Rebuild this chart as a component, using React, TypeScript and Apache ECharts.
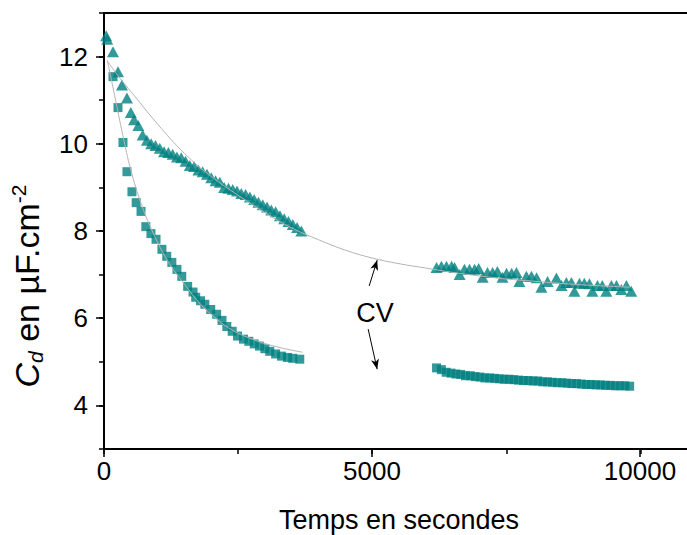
import React, { useEffect, useRef } from "react";
import * as echarts from "echarts";

const FONT = 'Arial, "Liberation Sans", sans-serif';
const TEAL = "#008080";
const FIT = "#b4b4b4";

// Triangles (upper series), segment 1 and 2: [time s, Cd µF/cm²]
const trianglesA: number[][] = [
  [40, 12.48], [60, 12.4], [168, 12.11], [261, 11.65], [335, 11.35], [428, 11.05], [500, 10.72],
  [560, 10.55], [640, 10.42], [720, 10.2], [800, 10.08], [880, 10.0], [960, 9.96], [1040, 9.9],
  [1120, 9.82], [1200, 9.8], [1280, 9.76], [1360, 9.7], [1440, 9.68], [1520, 9.6], [1600, 9.5],
  [1680, 9.48], [1760, 9.4], [1840, 9.36], [1920, 9.3], [2000, 9.22], [2080, 9.15], [2160, 9.12],
  [2240, 9.0], [2320, 8.98], [2400, 8.95], [2480, 8.92], [2560, 8.86], [2640, 8.84], [2720, 8.78],
  [2800, 8.72], [2880, 8.66], [2960, 8.6], [3040, 8.55], [3120, 8.48], [3200, 8.44], [3280, 8.35],
  [3360, 8.28], [3440, 8.22], [3520, 8.15], [3600, 8.08], [3680, 8.0],
];
const trianglesB: number[][] = [
  [6200, 7.16], [6290, 7.19], [6385, 7.19], [6480, 7.19], [6535, 7.16], [6630, 7.0], [6720, 7.12],
  [6815, 7.12], [6910, 7.12], [6985, 7.14], [7060, 6.94], [7150, 7.05], [7245, 7.05], [7335, 7.07],
  [7430, 6.94], [7505, 7.03], [7600, 7.03], [7690, 7.05], [7745, 6.84], [7875, 6.96], [7970, 6.96],
  [8065, 6.93], [8155, 6.71], [8270, 6.84], [8435, 6.92], [8530, 6.75], [8620, 6.82], [8715, 6.82],
  [8770, 6.62], [8865, 6.8], [8955, 6.8], [9050, 6.79], [9105, 6.62], [9200, 6.75], [9290, 6.75],
  [9365, 6.62], [9460, 6.75], [9555, 6.75], [9645, 6.66], [9740, 6.75], [9830, 6.62],
];

// Squares (lower series), segment 1 and 2
const squaresA: number[][] = [
  [168, 11.54], [261, 10.83], [354, 10.03], [428, 9.36], [521, 8.9], [600, 8.65], [690, 8.45],
  [780, 8.1], [875, 7.94], [970, 7.81], [1080, 7.58], [1170, 7.42], [1265, 7.28], [1360, 7.12],
  [1450, 6.96], [1560, 6.73], [1660, 6.6], [1710, 6.48], [1800, 6.4], [1880, 6.32], [1990, 6.2],
  [2100, 6.09], [2200, 5.95], [2290, 5.81], [2390, 5.7], [2490, 5.59], [2600, 5.52], [2700, 5.47],
  [2800, 5.41], [2900, 5.36], [3000, 5.3], [3090, 5.24], [3200, 5.18], [3310, 5.13], [3420, 5.1],
  [3520, 5.08], [3650, 5.06],
];
const squaresB: number[][] = [
  [6200, 4.86], [6290, 4.82], [6380, 4.76], [6470, 4.74], [6560, 4.72], [6650, 4.71], [6740, 4.68],
  [6830, 4.68], [6920, 4.66], [7010, 4.65], [7100, 4.63], [7190, 4.63], [7280, 4.62], [7370, 4.61],
  [7460, 4.6], [7550, 4.6], [7640, 4.59], [7730, 4.58], [7820, 4.57], [7910, 4.57], [8000, 4.56],
  [8090, 4.56], [8180, 4.54], [8270, 4.54], [8360, 4.53], [8450, 4.52], [8540, 4.52], [8630, 4.51],
  [8720, 4.5], [8810, 4.5], [8900, 4.49], [8990, 4.48], [9080, 4.48], [9170, 4.47], [9260, 4.47],
  [9350, 4.46], [9440, 4.46], [9530, 4.45], [9620, 4.45], [9710, 4.45], [9800, 4.44],
];

// Fitted curves (grey)
const fitTriangles: number[][] = [
  [60, 11.9], [300, 11.5], [600, 11.05], [1000, 10.45], [1500, 9.78], [2000, 9.25], [2500, 8.82],
  [3000, 8.42], [3500, 8.07], [4000, 7.8], [4500, 7.56], [5000, 7.38], [5500, 7.25], [6000, 7.15],
  [6500, 7.05], [7000, 6.97], [7500, 6.9], [8000, 6.85], [8500, 6.8], [9000, 6.76], [9500, 6.73],
  [9800, 6.71],
];
const fitSquares: number[][] = [
  [60, 11.92], [200, 11.1], [350, 10.2], [500, 9.4], [700, 8.6], [900, 8.0], [1100, 7.5],
  [1300, 7.1], [1500, 6.78], [1800, 6.32], [2100, 5.98], [2400, 5.72], [2700, 5.55], [3000, 5.42],
  [3300, 5.32], [3700, 5.22],
];

// Annotation arrows (start -> tip), in data units
const arrowUp: number[][] = [[4944, 6.74], [5093, 7.33]];
const arrowDown: number[][] = [[4925, 5.75], [5093, 4.83]];

const xMajorTicks = { min: 0, max: 10000, interval: 5000 };
const yMajorTicks = { min: 4, max: 12, interval: 2 };

export default function App() {
  const ref = useRef<HTMLDivElement>(null);
  useEffect(() => {
    if (!ref.current) return;
    const chart = echarts.init(ref.current, undefined, { renderer: "svg" });
    const black = "#000";
    const option: any = {
      animation: false,
      backgroundColor: "#fff",
      grid: [
        { left: 104, top: 13, width: 590, height: 436, show: true, borderColor: black, borderWidth: 2, backgroundColor: "transparent", outerBoundsMode: "none", containLabel: false },
        { left: 104, top: 56.6, width: 590, height: 348.8, show: false, outerBoundsMode: "none", containLabel: false },
        { left: 104, top: 13, width: 536, height: 436, show: false, outerBoundsMode: "none", containLabel: false },
      ],
      xAxis: [
        {
          gridIndex: 0, type: "value", min: 0, max: 11000, interval: 2500,
          axisLine: { show: true, onZero: false, lineStyle: { color: black, width: 2 } },
          axisTick: { show: true, inside: false, length: 5, lineStyle: { color: black, width: 1.5 } },
          axisLabel: { show: false }, splitLine: { show: false },
          name: "Temps en secondes", nameLocation: "middle", nameGap: 57,
          nameTextStyle: { color: black, fontSize: 27, fontFamily: FONT },
        },
        { gridIndex: 1, type: "value", min: 0, max: 1, show: false },
        {
          gridIndex: 2, type: "value", ...xMajorTicks,
          axisLine: { show: false, onZero: false },
          axisTick: { show: true, inside: false, length: 8, lineStyle: { color: black, width: 1.5 } },
          axisLabel: { color: black, fontSize: 26, fontFamily: FONT, margin: 9, formatter: (v: number) => String(v) },
          splitLine: { show: false },
        },
      ],
      yAxis: [
        {
          gridIndex: 0, type: "value", min: 3, max: 13, interval: 1,
          axisLine: { show: true, onZero: false, lineStyle: { color: black, width: 2 } },
          axisTick: { show: true, inside: false, length: 5, lineStyle: { color: black, width: 1.5 } },
          axisLabel: { show: false }, splitLine: { show: false },
        },
        {
          gridIndex: 1, type: "value", ...yMajorTicks,
          axisLine: { show: false, onZero: false },
          axisTick: { show: true, inside: false, length: 8, lineStyle: { color: black, width: 1.5 } },
          axisLabel: { color: black, fontSize: 26, fontFamily: FONT, margin: 16 },
          splitLine: { show: false },
        },
        { gridIndex: 2, type: "value", min: 0, max: 1, show: false },
      ],
      series: [
        {
          name: "Squares", type: "scatter", xAxisIndex: 0, yAxisIndex: 0,
          symbol: "rect", symbolSize: 9, itemStyle: { color: TEAL },
          data: [...squaresA, ...squaresB],
        },
        {
          name: "Triangles", type: "scatter", xAxisIndex: 0, yAxisIndex: 0,
          symbol: "triangle", symbolSize: [12, 11], itemStyle: { color: TEAL },
          data: [...trianglesA, ...trianglesB],
        },
        {
          name: "Fit triangles", type: "line", xAxisIndex: 0, yAxisIndex: 0,
          showSymbol: false, smooth: 0.4, lineStyle: { color: FIT, width: 1 },
          data: fitTriangles, silent: true,
        },
        {
          name: "Fit squares", type: "line", xAxisIndex: 0, yAxisIndex: 0,
          showSymbol: false, smooth: 0.4, lineStyle: { color: FIT, width: 1 },
          data: fitSquares, silent: true,
        },
        {
          name: "Arrows", type: "line", xAxisIndex: 0, yAxisIndex: 0,
          showSymbol: false, data: [], silent: true,
          markLine: {
            silent: true, symbol: ["none", "arrow"], symbolSize: [6, 10],
            lineStyle: { color: black, width: 1, type: "solid" },
            itemStyle: { color: black },
            label: { show: false },
            data: [
              [{ coord: arrowUp[0] }, { coord: arrowUp[1] }],
              [{ coord: arrowDown[0] }, { coord: arrowDown[1] }],
            ],
          },
        },
      ],
      graphic: [
        {
          type: "text", x: 375, y: 313,
          style: { text: "CV", fill: black, font: `27px ${FONT}`, align: "center", verticalAlign: "middle" },
        },
        {
          type: "text", x: 27, y: 286, rotation: Math.PI / 2,
          style: {
            text: "{c|C}{s|d}{n| en µF.cm}{p|-2}",
            align: "center", verticalAlign: "middle", fill: black, font: `34px ${FONT}`,
            rich: {
              c: { fontSize: 34, fontStyle: "italic", fontFamily: FONT, fill: black, lineHeight: 38 },
              s: { fontSize: 21, fontStyle: "italic", fontFamily: FONT, fill: black, lineHeight: 16, verticalAlign: "bottom" },
              n: { fontSize: 34, fontFamily: FONT, fill: black, lineHeight: 38 },
              p: { fontSize: 21, fontFamily: FONT, fill: black, lineHeight: 16, verticalAlign: "top" },
            },
          },
        },
      ],
    };
    chart.setOption(option);
    return () => chart.dispose();
  }, []);
  return <div ref={ref} style={{ width: 687, height: 535, position: "absolute", left: 0, top: 0 }} />;
}
